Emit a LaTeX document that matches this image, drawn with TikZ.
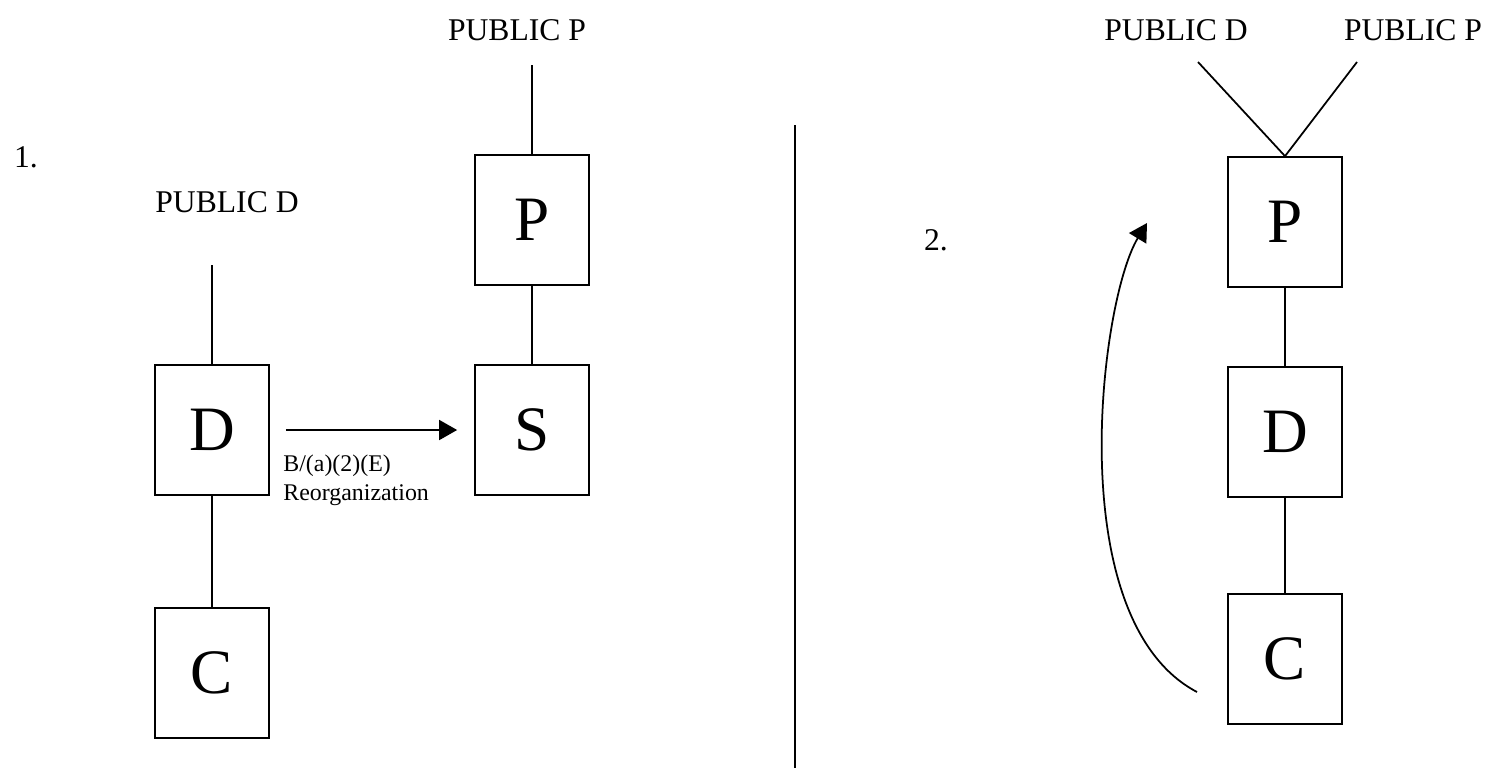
\documentclass[tikz,border=0pt]{standalone}
\usepackage{fontspec}
\setmainfont{Liberation Serif}
\usetikzlibrary{arrows.meta}
\tikzset{
  entity/.style={rectangle, draw, line width=1pt, minimum width=2.28cm, minimum height=2.6cm,
                 font=\fontsize{36}{40}\selectfont, inner sep=0pt},
  pubtag/.style={font=\fontsize{18}{20}\selectfont, inner sep=0pt},
  link/.style={line width=1pt},
  move/.style={-{Triangle[length=3.6mm, width=4mm]}, line width=1pt},
  note/.style={font=\fontsize{13.6}{16}\selectfont, align=left, inner sep=0pt},
}

\begin{document}
\begin{tikzpicture}[x=0.02cm, y=-0.02cm]
  \useasboundingbox (0,0) rectangle (1496,768);
  \node[pubtag] (n1) at (26,157) {1.};
  \node[pubtag] (n2) at (936,240) {2.};
  \foreach \nm/\lt/\x/\y in {d1/D/212/430, c1/C/212/673, p1/P/532/220, s1/S/532/430,
                             p2/P/1285/222, d2/D/1285/432, c2/C/1285/659}{
    \node[entity] (\nm) at (\x,\y) {\lt};
  }
  \node[pubtag] (pd1) at (227,202) {PUBLIC D};
  \node[pubtag] (pp1) at (517,30) {PUBLIC P};
  \node[pubtag] (pd2) at (1176,30) {PUBLIC D};
  \node[pubtag] (pp2) at (1413,30) {PUBLIC P};
  \coordinate (t1) at (212,265);
  \coordinate (t2) at (532,65);
  \coordinate (t3) at (1198,62);
  \coordinate (t4) at (1357,62);
  \foreach \a/\b in {t1/d1.north, d1.south/c1.north, t2/p1.north, p1.south/s1.north,
                     t3/p2.north, t4/p2.north, p2.south/d2.north, d2.south/c2.north}{
    \draw[link] (\a) -- (\b);
  }
  \draw[move] ([xshift=0.32cm]d1.east) -- ([xshift=-0.34cm]s1.west);
  \node[note, anchor=north west] (lbl) at (283,455) {B/(a)(2)(E)\\Reorganization};
  \draw[link] (795,125) -- (795,768);
  \coordinate (a0) at (1197,692);
  \coordinate (a1) at (1147,223);
  \draw[move] (a0) .. controls (1060,620) and (1100,300) .. (a1);
\end{tikzpicture}
\end{document}
